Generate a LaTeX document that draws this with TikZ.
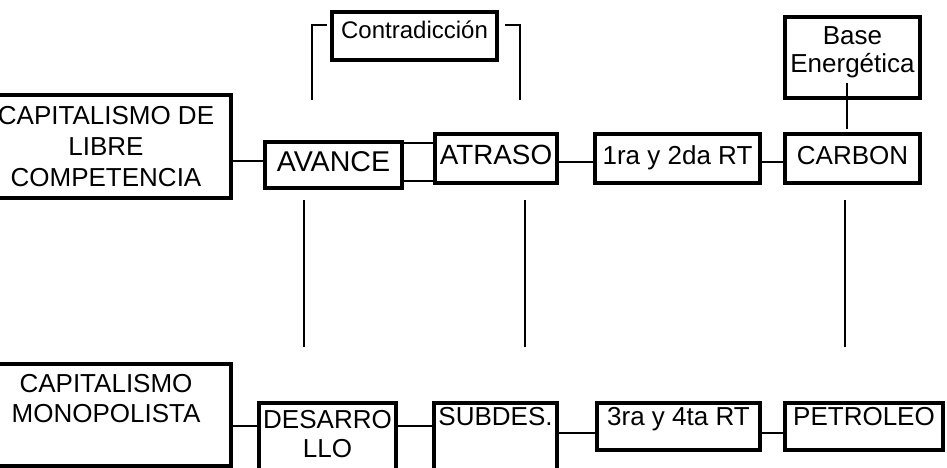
\documentclass[tikz,border=0pt]{standalone}
\usepackage{fontspec}
\setmainfont{Liberation Sans}

\begin{document}
\begin{tikzpicture}[
	x=0.5pt, y=-0.5pt,
	box/.style={rectangle, draw, line width=2pt, inner xsep=2pt, inner ysep=2pt, align=center},
	boxsize/.style 2 args={minimum width=#1*0.5pt, minimum height=#2*0.5pt},
	link/.style={line width=1pt},
	every node/.style={outer sep=0pt, font=\fontsize{13}{15}\selectfont},
]
% Input 1: left node, input 2: right node, input 3: offset from the
% centre of the right node.
\def\link#1#2#3{
	\coordinate (tmp) at ([shift={(0,#3)}]#2.west);
	\draw[link] (tmp) -- (tmp -| #1.east);
}
	\path[use as bounding box, clip] (0,0) rectangle (947,467);

	% top row
	\node[box, boxsize={250}{103}, font=\fontsize{13}{15.5}\selectfont]
		(capl) at (106,146.5) {CAPITALISMO DE\\LIBRE\\COMPETENCIA};
	\node[box, font=\fontsize{14.3}{16}\selectfont, text height=12.5pt,
		text depth=6.5pt, minimum width=68.5pt] (avance) at (333.5,165) {AVANCE};
	\node[box, font=\fontsize{13.9}{16}\selectfont, text height=13pt,
		text depth=7.5pt, minimum width=61pt] (atraso) at (496,158.5) {ATRASO};
	\node[box, text height=13pt, text depth=7.5pt, minimum width=82.5pt]
		(rt12) at (677.5,158.5) {1ra y 2da RT};
	\node[box, text height=13pt, text depth=7.5pt, minimum width=67.5pt]
		(carbon) at (852.5,158.5) {CARBON};
	\node[box, font=\fontsize{13}{14}\selectfont, text height=25.5pt,
		text depth=11pt, minimum width=67.5pt] (base) at (852.5,57.5)
		{Base\\Energética};
	\node[box, font=\fontsize{12}{14}\selectfont, text height=11pt,
		text depth=9pt, minimum width=82.5pt] (contra) at (414.5,36)
		{Contradicción};

	% bottom row
	\node[box, text height=27pt, text depth=20pt, minimum width=125pt]
		(capm) at (106,415) {CAPITALISMO\\MONOPOLISTA};
	\node[box, font=\fontsize{13}{14.5}\selectfont, text height=25pt,
		text depth=4.5pt, minimum width=67.5pt] (desa) at (327.5,436.5)
		{DESARRO\\LLO};
	\node[box, text height=9pt, text depth=20.5pt, minimum width=58.5pt]
		(subd) at (495.5,436.5) {SUBDES.};
	\node[box, text height=9pt, text depth=10.5pt, minimum width=81.5pt]
		(rt34) at (678.5,426.5) {3ra y 4ta RT};
	\node[box, text height=9pt, text depth=10.5pt, minimum width=79pt]
		(petro) at (864,426.5) {PETROLEO};

	\link{capl}{avance}{-4}
	\link{avance}{atraso}{-15.5}
	\link{avance}{atraso}{22.5}
	\link{atraso}{rt12}{3.5}
	\link{rt12}{carbon}{3.5}
	\draw[link] ([shift={(-6,-15)}]base.south) -- ([shift={(-6,-5)}]carbon.north);

	\coordinate (cl) at (312,100);
	\coordinate (cr) at (520,100);
	\draw[link] ([shift={(-5,13)}]contra.north west) -| (cl);
	\draw[link] ([shift={(8,13)}]contra.north east) -| (cr);

	\link{capm}{desa}{-11}
	\link{desa}{subd}{-11}
	\link{subd}{rt34}{6}
	\link{rt34}{petro}{6}

	% lines between the rows
	\foreach \n/\x in {a/304, b/525, c/845} {
		\coordinate (\n top) at (\x,200);
		\coordinate (\n bot) at (\x,347);
		\draw[link] (\n top) -- (\n bot);
	}
\end{tikzpicture}
\end{document}
